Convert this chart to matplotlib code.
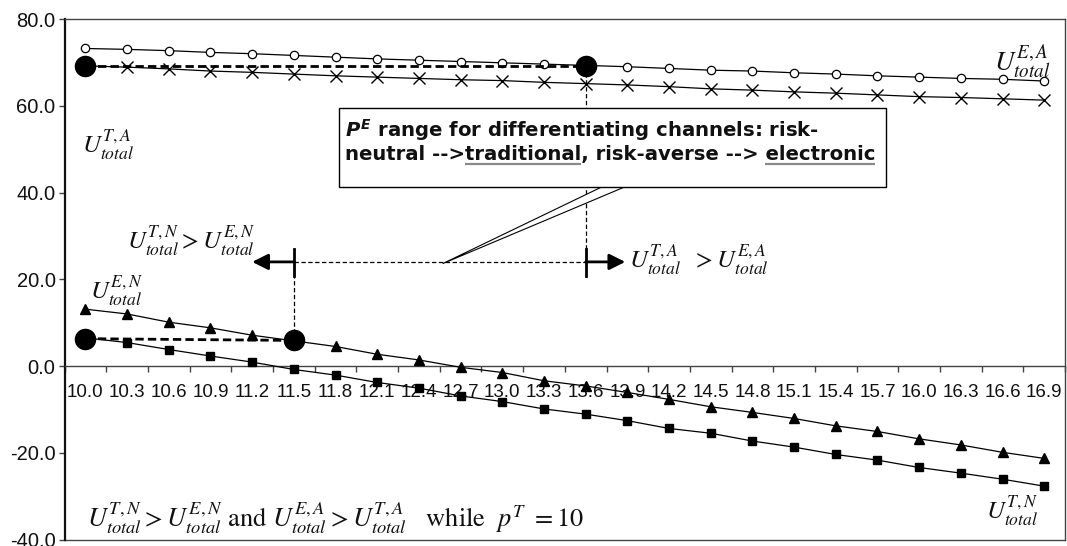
"""
plot.py - utility of traditional vs electronic channel against the electronic price.
"""

import matplotlib.pyplot as plt
import numpy as np
from matplotlib.patches import Polygon, Rectangle

plt.rcParams["font.family"] = "Liberation Sans"
plt.rcParams["mathtext.fontset"] = "stix"
# used only by the box title ("custom" math font set)
plt.rcParams["mathtext.it"] = "DejaVu Sans:italic:bold"

# electronic channel price p^E
price_e = ["10.0", "10.3", "10.6", "10.9", "11.2", "11.5", "11.8", "12.1",
           "12.4", "12.7", "13.0", "13.3", "13.6", "13.9", "14.2", "14.5",
           "14.8", "15.1", "15.4", "15.7", "16.0", "16.3", "16.6", "16.9"]

# total utilities
u_ea = [73.2, 73.0, 72.7, 72.3, 72.0, 71.6, 71.2, 70.8, 70.5, 70.2, 69.9, 69.6,
        69.3, 69.0, 68.6, 68.2, 68.0, 67.6, 67.3, 66.9, 66.6, 66.3, 66.1, 65.7]
u_ta = [69.2, 68.9, 68.5, 68.0, 67.7, 67.3, 66.9, 66.6, 66.3, 66.0, 65.8, 65.4,
        65.1, 64.8, 64.4, 63.9, 63.6, 63.2, 62.9, 62.5, 62.1, 61.9, 61.6, 61.3]
u_en = [13.1, 12.0, 10.1, 8.8, 7.1, 5.8, 4.5, 2.7, 1.4, -0.3, -1.5, -3.4,
        -4.6, -6.1, -7.7, -9.4, -10.7, -12.1, -13.8, -15.1, -16.8, -18.2, -19.9, -21.3]
u_tn = [6.5, 5.4, 3.8, 2.3, 0.9, -0.8, -2.1, -3.8, -5.1, -6.9, -8.2, -9.9,
        -11.1, -12.6, -14.4, -15.5, -17.3, -18.7, -20.4, -21.7, -23.4, -24.7, -26.1, -27.7]

# points where both channels give the same utility
eq_a_price = ["10.0", "13.6"]
eq_a_val = [69.2, 69.2]
eq_n_price = ["10.0", "11.5"]
eq_n_val = [6.3, 5.9]

y_ticks = [-40, -20, 0, 20, 40, 60, 80]

x = np.arange(len(price_e))
eq_a_x = [price_e.index(p) for p in eq_a_price]
eq_n_x = [price_e.index(p) for p in eq_n_price]

fig = plt.figure(figsize=(10.67, 5.46), dpi=100)
ax = fig.add_axes([0.0605, 0.0119, 0.9377, 0.9533])

line_kw = dict(color="black", linewidth=0.9, zorder=3)
ax.plot(x, u_ea, marker="o", markersize=6, markerfacecolor="white",
        markeredgecolor="black", markeredgewidth=0.9, **line_kw)
ax.plot(x, u_ta, marker="x", markersize=8, markeredgewidth=1.0, **line_kw)
ax.plot(x, u_en, marker="^", markersize=6.5, **line_kw)
ax.plot(x, u_tn, marker="s", markersize=5.8, **line_kw)

# equal-utility points joined by thick dashes
for ex, ev in [(eq_a_x, eq_a_val), (eq_n_x, eq_n_val)]:
    ax.plot(ex, ev, color="black", linewidth=2, linestyle=(0, (3, 1.5)), zorder=3)
    ax.plot(ex, ev, linestyle="none", marker="o", markersize=14.5,
            color="black", zorder=4)

# axes: categories along y = 0, frame around the plot
ax.set_xlim(-0.5, len(price_e) - 0.5)
ax.set_ylim(-40, 80)
ax.spines["bottom"].set_position(("data", 0))
ax.spines["bottom"].set_color("#444444")
ax.spines["bottom"].set_linewidth(1.0)
for side in ["top", "right"]:
    ax.spines[side].set_color("#444444")
    ax.spines[side].set_linewidth(1.0)
ax.spines["left"].set_color("#111111")
ax.spines["left"].set_linewidth(1.6)
ax.axhline(-40, color="#444444", linewidth=1.0, clip_on=False, zorder=2)

ax.set_xticks(np.arange(-0.5, len(price_e), 1.0))
ax.set_xticklabels([])
ax.set_xticks(x, minor=True)
ax.set_xticklabels(price_e, minor=True)
ax.tick_params(axis="x", which="major", direction="out", length=4,
               color="#444444", width=1.0)
ax.tick_params(axis="x", which="minor", length=0, pad=13, labelsize=13.5,
               labelcolor="#111111")

ax.set_yticks(y_ticks)
ax.set_yticklabels([f"{v:.1f}" for v in y_ticks])
ax.tick_params(axis="y", direction="out", length=4.5, width=1.0,
               color="#444444", pad=2, labelsize=14.5, labelcolor="#111111")

# range of p^E between the two switching points
arrow_y = 24
thin = dict(color="black", linewidth=0.9, linestyle=(0, (3.5, 2)), zorder=2)
ax.plot([eq_n_x[1], eq_a_x[1]], [arrow_y, arrow_y], **thin)
ax.plot([eq_n_x[1], eq_n_x[1]], [eq_n_val[1], arrow_y], **thin)
ax.plot([eq_a_x[1], eq_a_x[1]], [eq_a_val[1], arrow_y], **thin)
for bx in [eq_n_x[1], eq_a_x[1]]:
    ax.plot([bx, bx], [20.8, 27.0], color="black", linewidth=2, zorder=4)
arrow_kw = dict(arrowstyle="-|>", color="black", lw=2, mutation_scale=24,
                shrinkA=0, shrinkB=0)
ax.annotate("", xy=(eq_n_x[1] - 1.0, arrow_y), xytext=(eq_n_x[1], arrow_y),
            arrowprops=arrow_kw, zorder=4)
ax.annotate("", xy=(eq_a_x[1] + 0.95, arrow_y), xytext=(eq_a_x[1], arrow_y),
            arrowprops=arrow_kw, zorder=4)

# callout box
box_x0, box_x1, box_y0, box_y1 = 6.08, 19.2, 41.3, 59.5
ax.add_patch(Polygon([(12.39, box_y0), (8.57, 23.6), (12.94, box_y0)],
                     closed=True, facecolor="white", edgecolor="black",
                     linewidth=0.8, zorder=5))
ax.add_patch(Rectangle((box_x0, box_y0), box_x1 - box_x0, box_y1 - box_y0,
                       facecolor="white", edgecolor="black", linewidth=1.0, zorder=5))

box_font = dict(fontsize=14.1, fontweight="bold", family="DejaVu Sans",
                color="#111111", va="baseline", ha="left", zorder=6)
line1 = r"$P^E$ range for differentiating channels: risk-"
line2 = "neutral -->traditional, risk-averse --> electronic"
tx, ty1, ty2 = 6.22, 52.9, 47.5
ax.text(tx, ty1, line1, math_fontfamily="custom", **box_font)
ax.text(tx, ty2, line2, **box_font)

# underline "traditional" and "electronic" (limits are fixed by now)
fig.canvas.draw()
rend = fig.canvas.get_renderer()


def text_right(s):
    t = ax.text(tx, ty2, s, **box_font)
    right = t.get_window_extent(rend).x1
    t.remove()
    return right


left = ax.transData.transform((tx, ty2))
inv = ax.transData.inverted()
for word, prefix in [("traditional", "neutral -->"),
                     ("electronic", "neutral -->traditional, risk-averse --> ")]:
    end = text_right(prefix + word)
    start = end - (text_right(word) - left[0])
    p0 = inv.transform((start, left[1] - 4))
    p1 = inv.transform((end, left[1] - 4))
    ax.plot([p0[0], p1[0]], [p0[1], p1[1]], color="#8a8a8a", linewidth=1.6,
            zorder=6, solid_capstyle="butt")

# utility labels
lab = dict(math_fontfamily="stix", family="STIXGeneral", va="center",
           ha="left", color="#111111", zorder=6)
ax.text(21.79, 70.3, r"$U^{E,A}_{total}$", fontsize=19.5, **lab)
ax.text(-0.07, 51.0, r"$U^{T,A}_{total}$", fontsize=18, **lab)
ax.text(0.1, 17.1, r"$U^{E,N}_{total}$", fontsize=18, **lab)
ax.text(0.99, 28.7, r"$U^{T,N}_{total} > U^{E,N}_{total}$", fontsize=18, **lab)
ax.text(13.04, 24.4, r"$U^{T,A}_{total}\ \ > U^{E,A}_{total}$", fontsize=18, **lab)
ax.text(21.6, -33.6, r"$U^{T,N}_{total}$", fontsize=18, **lab)
ax.text(0.05, -35.0,
        r"$U^{T,N}_{total} > U^{E,N}_{total}$ and $U^{E,A}_{total} > U^{T,A}_{total}$"
        r"   while  $p^{T}\ = 10$", fontsize=19, **lab)

fig.savefig("out.png", dpi=100)
